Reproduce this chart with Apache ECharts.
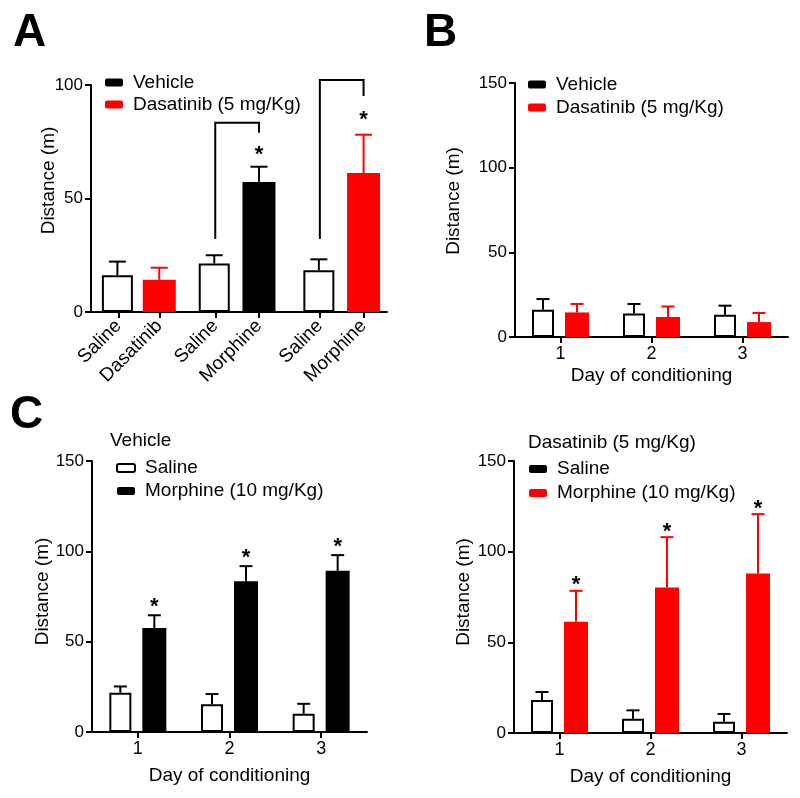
<!DOCTYPE html>
<html><head><meta charset="utf-8">
<script src="https://cdn.jsdelivr.net/npm/echarts@6/dist/echarts.min.js"></script>
<style>html,body{margin:0;padding:0;background:#fff}#c{width:800px;height:798px}</style>
</head><body><div id="c"></div>
<script>
// ---------------- DATA ----------------
// Panel A
const labelsA = ['Saline', 'Dasatinib', 'Saline', 'Morphine', 'Saline', 'Morphine'];
const posA = [1, 2, 3.37, 4.44, 5.93, 7.0];
const meanA = [16.2, 14.2, 21.4, 57.3, 18.4, 61.2];
const semA = [6.0, 5.3, 3.6, 6.7, 4.8, 16.9];
const groupA = ['Saline', 'Dasatinib (5 mg/Kg)', 'Saline', 'Vehicle', 'Saline', 'Dasatinib (5 mg/Kg)'];
// brackets: [x left, y left bottom, x right, y right bottom, y top]
const bracketsA = [[3.37, 32.2, 4.44, 79.0, 83.4], [5.93, 32.2, 7.0, 95.2, 102.2]];
const starsA = [[4.44, 71.4], [7.0, 86.8]];

// Panel B
const days = ['1', '2', '3'];
const vehB = [16.1, 13.9, 13.2];
const vehBsem = [6.3, 5.6, 5.3];
const dasB = [14.5, 11.8, 8.8];
const dasBsem = [5.0, 6.2, 5.4];

// Panel C left (Vehicle)
const salC1 = [21.7, 15.4, 10.1];
const salC1sem = [3.5, 5.6, 5.5];
const morC1 = [57.6, 83.5, 89.2];
const morC1sem = [7.0, 8.3, 8.7];
const starC1 = [72, 99, 105.2];

// Panel C right (Dasatinib)
const salC2 = [18.2, 7.9, 6.2];
const salC2sem = [4.4, 4.6, 4.3];
const morC2 = [61.3, 80.2, 87.9];
const morC2sem = [17.1, 27.8, 32.8];
const starC2 = [84.5, 113.5, 126.3];

// ---------------- STYLE ----------------
const FONT = '"Liberation Sans", Arial, Helvetica, sans-serif';
const BLACK = '#000000', RED = '#ff0000';
const styles = {
  'Saline': { color: '#ffffff', borderColor: BLACK, borderWidth: 2, err: BLACK },
  'Vehicle': { color: BLACK, err: BLACK },
  'Dasatinib (5 mg/Kg)': { color: RED, err: RED }
};
const axisLineStyle = { color: BLACK, width: 2 };

function colCenters(widths, gapPct) {
  let total = 0;
  widths.forEach(w => total += w * (1 + gapPct));
  total -= widths[widths.length - 1] * gapPct;
  let off = -total / 2;
  return widths.map(w => { const c = off + w / 2; off += w * (1 + gapPct); return c; });
}

function errSeries(name, grid, data, offset, capHalf, color) {
  return {
    type: 'custom', name: name, xAxisIndex: grid, yAxisIndex: grid, clip: false, silent: true,
    data: data,
    renderItem: function (params, api) {
      const x = api.value(0), m = api.value(1), e = api.value(2);
      const p0 = api.coord([x, m]);
      const p1 = api.coord([x, m + e]);
      const cx = p0[0] + offset;
      return { type: 'group', children: [
        { type: 'line', shape: { x1: cx, y1: p0[1], x2: cx, y2: p1[1] }, style: { stroke: color, lineWidth: 2 } },
        { type: 'line', shape: { x1: cx - capHalf, y1: p1[1], x2: cx + capHalf, y2: p1[1] }, style: { stroke: color, lineWidth: 2 } }
      ] };
    }
  };
}

function starSeries(grid, data, offset) {
  return {
    type: 'custom', xAxisIndex: grid, yAxisIndex: grid, clip: false, silent: true,
    data: data,
    renderItem: function (params, api) {
      const p = api.coord([api.value(0), api.value(1)]);
      return { type: 'text', style: { x: p[0] + offset, y: p[1] + 5, text: '*', fill: BLACK,
        font: 'bold 22px ' + FONT, textAlign: 'center', textVerticalAlign: 'middle' } };
    }
  };
}

function bracketSeries(grid, data) {
  return {
    type: 'custom', xAxisIndex: grid, yAxisIndex: grid, clip: false, silent: true,
    data: data,
    renderItem: function (params, api) {
      const a = api.coord([api.value(0), api.value(1)]);
      const b = api.coord([api.value(0), api.value(4)]);
      const c = api.coord([api.value(2), api.value(4)]);
      const d = api.coord([api.value(2), api.value(3)]);
      return { type: 'polyline', shape: { points: [a, b, c, d] }, style: { stroke: BLACK, lineWidth: 2, fill: null } };
    }
  };
}

function yAxis(grid, max, nameGap, shift) {
  return {
    type: 'value', gridIndex: grid, min: 0, max: max, interval: 50,
    name: 'Distance (m)', nameLocation: 'middle', nameGap: nameGap, nameMoveOverlap: false,
    nameTextStyle: { fontSize: 19, color: BLACK, fontFamily: FONT, padding: [0, 0, 0, shift * 2] },
    axisLine: { show: true, lineStyle: axisLineStyle },
    axisTick: { show: true, length: 6, lineStyle: axisLineStyle },
    axisLabel: { fontSize: 17, color: BLACK, fontFamily: FONT, margin: 8 },
    splitLine: { show: false }
  };
}

function xCatAxis(grid, nameGap) {
  return {
    type: 'category', gridIndex: grid, data: days, boundaryGap: true,
    name: 'Day of conditioning', nameLocation: 'middle', nameGap: nameGap, nameMoveOverlap: false,
    nameTextStyle: { fontSize: 19, color: BLACK, fontFamily: FONT },
    axisLine: { show: true, onZero: false, lineStyle: axisLineStyle },
    axisTick: { show: true, alignWithLabel: true, length: 6, lineStyle: axisLineStyle },
    axisLabel: { fontSize: 18, color: BLACK, fontFamily: FONT, margin: 8 },
    splitLine: { show: false }
  };
}

// ---------------- PANEL A ----------------
const BAR_A = 33;
const series = [];
['Saline', 'Vehicle', 'Dasatinib (5 mg/Kg)'].forEach(g => {
  const st = styles[g];
  const idx = groupA.map((v, i) => v === g ? i : -1).filter(i => i >= 0);
  series.push({
    type: 'bar', name: g, xAxisIndex: 0, yAxisIndex: 0,
    barWidth: g === 'Saline' ? BAR_A - 2 : BAR_A, barGap: '-100%',
    itemStyle: { color: st.color, borderColor: st.borderColor || st.color, borderWidth: st.borderWidth || 0 },
    data: idx.map(i => [posA[i], meanA[i]]), silent: true
  });
  series.push(errSeries(g, 0, idx.map(i => [posA[i], meanA[i], semA[i]]), g === 'Saline' ? -1 : 0, 8.5, st.err));
});
series.push(bracketSeries(0, bracketsA));
series.push(starSeries(0, starsA, 0));

// ---------------- PANELS B, C ----------------
const W_WHITE = 22, W_COL = 24, GAP = 0.5;
const cent = colCenters([W_WHITE, W_COL], GAP);

function pairPanel(grid, n1, d1, e1, s1, n2, d2, e2, s2, stars) {
  series.push({
    type: 'bar', name: n1, xAxisIndex: grid, yAxisIndex: grid, barWidth: W_WHITE, barGap: (GAP * 100) + '%',
    itemStyle: { color: s1.color, borderColor: s1.borderColor || s1.color, borderWidth: s1.borderWidth || 0 },
    data: d1, silent: true
  });
  series.push({
    type: 'bar', name: n2, xAxisIndex: grid, yAxisIndex: grid, barWidth: W_COL, barGap: (GAP * 100) + '%',
    itemStyle: { color: s2.color }, data: d2, silent: true
  });
  series.push(errSeries(n1, grid, d1.map((v, i) => [i, v, e1[i]]), cent[0], 6.5, s1.err));
  series.push(errSeries(n2, grid, d2.map((v, i) => [i, v, e2[i]]), cent[1], 6.5, s2.err));
  if (stars) series.push(starSeries(grid, stars.map((v, i) => [i, v]), cent[1]));
}

pairPanel(1, 'Vehicle', vehB, vehBsem, styles['Saline'], 'Dasatinib (5 mg/Kg)', dasB, dasBsem, styles['Dasatinib (5 mg/Kg)'], null);
pairPanel(2, 'Saline', salC1, salC1sem, styles['Saline'], 'Morphine (10 mg/Kg)', morC1, morC1sem, styles['Vehicle'], starC1);
pairPanel(3, 'Saline ', salC2, salC2sem, styles['Saline'], 'Morphine (10 mg/Kg) ', morC2, morC2sem, styles['Dasatinib (5 mg/Kg)'], starC2);

const legendText = { fontSize: 19, color: BLACK, fontFamily: FONT, lineHeight: 19, padding: [0, 0, 0, 5] };
function legend(left, top, gap, data) {
  return { orient: 'vertical', left: left, top: top, itemGap: gap, itemWidth: 18, itemHeight: 8, icon: 'roundRect',
    padding: 0, selectedMode: false, textStyle: legendText, data: data };
}
const letterStyle = { fontSize: 46, fontWeight: 'bold', fontFamily: FONT, color: BLACK };

const option = {
  animation: false,
  backgroundColor: '#ffffff',
  title: [
    { text: 'A', left: 13, top: 10, padding: 0, textStyle: letterStyle },
    { text: 'B', left: 424, top: 10, padding: 0, textStyle: letterStyle },
    { text: 'C', left: 10, top: 392, padding: 0, textStyle: letterStyle },
    { text: 'Vehicle', left: 110, top: 431, padding: 0, textStyle: { fontSize: 19, fontWeight: 'normal', fontFamily: FONT, color: BLACK } },
    { text: 'Dasatinib (5 mg/Kg)', left: 528, top: 433, padding: 0, textStyle: { fontSize: 19, fontWeight: 'normal', fontFamily: FONT, color: BLACK } }
  ],
  legend: [
    legend(105, 73, 3, [{ name: 'Vehicle', itemStyle: { color: BLACK, borderWidth: 0 } }, { name: 'Dasatinib (5 mg/Kg)', itemStyle: { color: RED, borderWidth: 0 } }]),
    legend(528, 75, 4, [{ name: 'Vehicle', itemStyle: { color: BLACK, borderWidth: 0 } }, { name: 'Dasatinib (5 mg/Kg)', itemStyle: { color: RED, borderWidth: 0 } }]),
    legend(116, 458.5, 4, [{ name: 'Saline', itemStyle: { color: '#ffffff', borderColor: BLACK, borderWidth: 2 } }, { name: 'Morphine (10 mg/Kg)', itemStyle: { color: BLACK } }]),
    legend(529, 459.5, 5, [{ name: 'Saline ', itemStyle: { color: BLACK, borderColor: BLACK, borderWidth: 0 } }, { name: 'Morphine (10 mg/Kg) ', itemStyle: { color: RED } }])
  ],
  grid: [
    { left: 91, top: 85, width: 296, height: 227 },
    { left: 515, top: 83, width: 273, height: 254 },
    { left: 92, top: 461, width: 275, height: 271 },
    { left: 514, top: 461, width: 273, height: 272 }
  ],
  xAxis: [
    {
      type: 'value', gridIndex: 0, min: 1 - 27.5 / 41, max: 1 + 269.5 / 41,
      axisLine: { show: true, onZero: false, lineStyle: axisLineStyle },
      axisTick: { show: true, length: 6, lineStyle: axisLineStyle, customValues: posA },
      axisLabel: {
        customValues: posA, rotate: 45, fontSize: 19, color: BLACK, fontFamily: FONT, margin: 11,
        formatter: function (v) {
          let best = 0;
          posA.forEach((p, i) => { if (Math.abs(p - v) < Math.abs(posA[best] - v)) best = i; });
          return labelsA[best];
        }
      },
      splitLine: { show: false }
    },
    xCatAxis(1, 29),
    xCatAxis(2, 34),
    xCatAxis(3, 34)
  ],
  yAxis: [
    yAxis(0, 100, 33, 18),
    yAxis(1, 150, 52, 9),
    yAxis(2, 150, 40, 5),
    yAxis(3, 150, 41, 5)
  ],
  series: series
};

const chart = echarts.init(document.getElementById('c'), null, { renderer: 'canvas' });
chart.setOption(option);
</script>
</body></html>
